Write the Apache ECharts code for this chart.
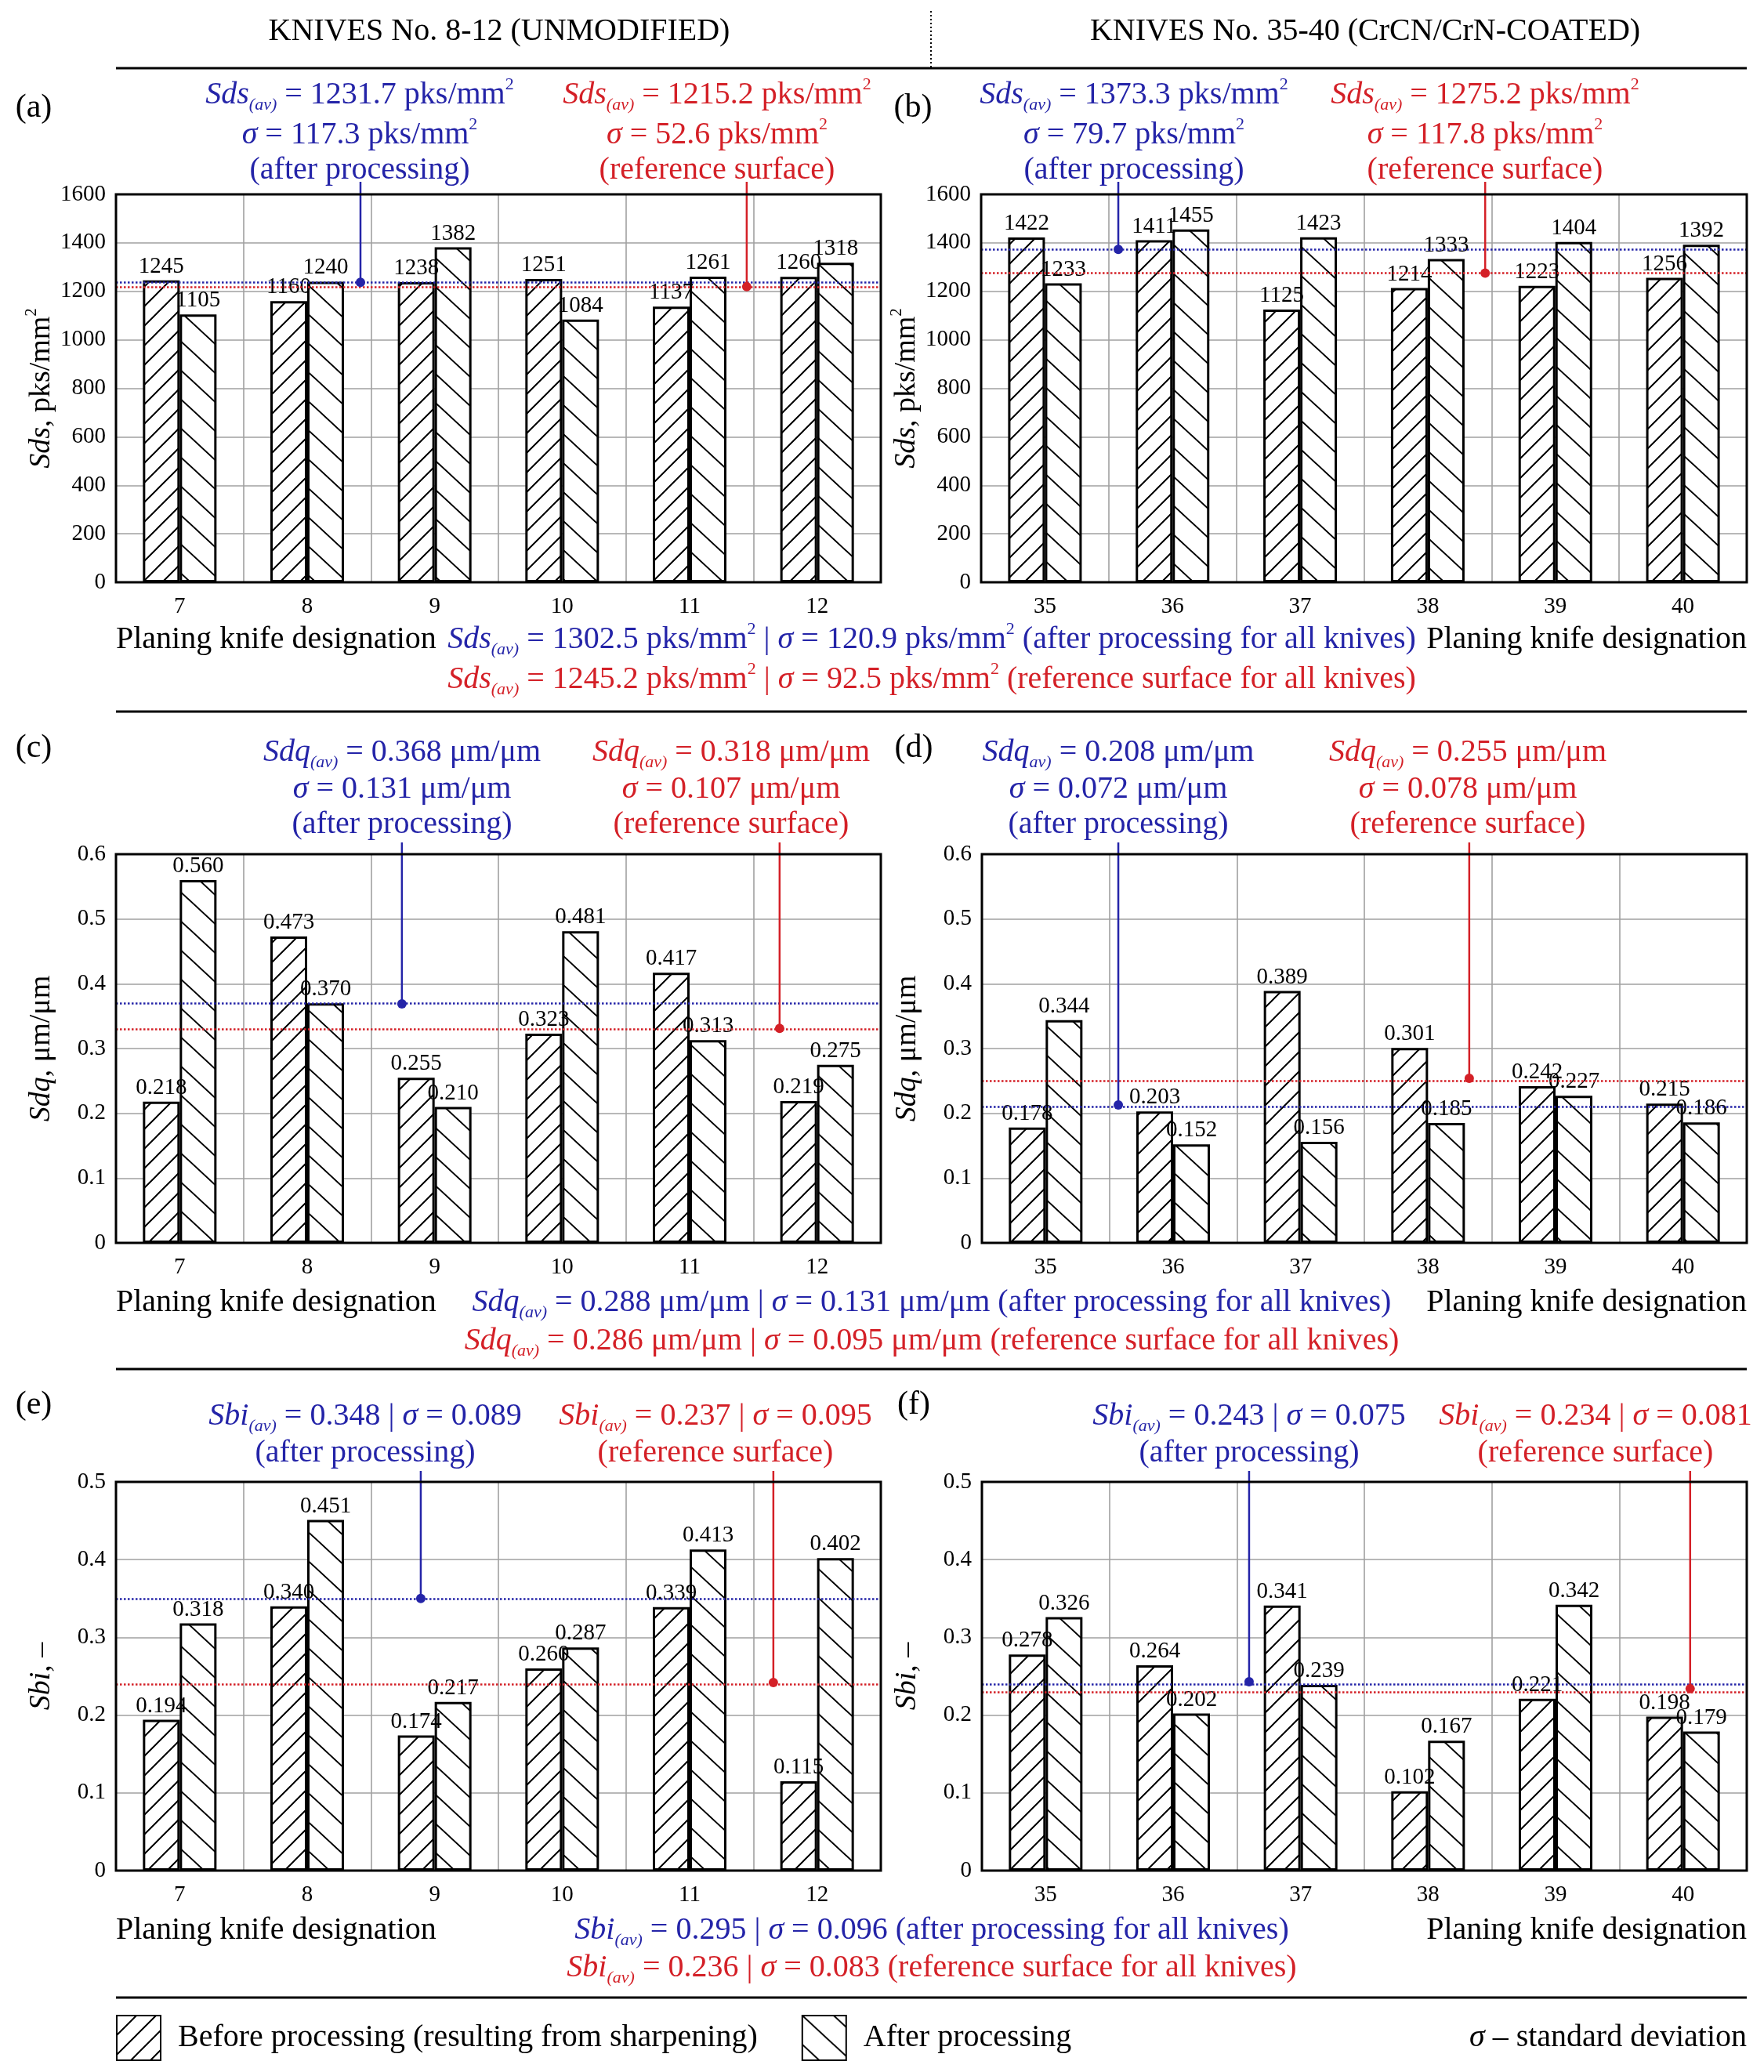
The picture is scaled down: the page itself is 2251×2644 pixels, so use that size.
<!DOCTYPE html>
<html><head><meta charset="utf-8">
<script src="https://cdn.jsdelivr.net/npm/echarts@6/dist/echarts.min.js"></script>
<style>html,body{margin:0;padding:0;background:#fff}#c{width:2251px;height:2644px}</style>
</head><body><div id="c"></div>
<script>
// ---------- DATA ----------
const knivesUnmodified = ['7','8','9','10','11','12'];
const knivesCoated = ['35','36','37','38','39','40'];
const sdsBefore812 = [1245,1160,1238,1251,1137,1260];
const sdsAfter812 = [1105,1240,1382,1084,1261,1318];
const sdsBefore3540 = [1422,1411,1125,1214,1223,1256];
const sdsAfter3540 = [1233,1455,1423,1333,1404,1392];
const sdqBefore812 = [0.218,0.473,0.255,0.323,0.417,0.219];
const sdqAfter812 = [0.560,0.370,0.210,0.481,0.313,0.275];
const sdqBefore3540 = [0.178,0.203,0.389,0.301,0.242,0.215];
const sdqAfter3540 = [0.344,0.152,0.156,0.185,0.227,0.186];
const sbiBefore812 = [0.194,0.340,0.174,0.260,0.339,0.115];
const sbiAfter812 = [0.318,0.451,0.217,0.287,0.413,0.402];
const sbiBefore3540 = [0.278,0.264,0.341,0.102,0.221,0.198];
const sbiAfter3540 = [0.326,0.202,0.239,0.167,0.342,0.179];
const avgAfterLine = [1237,1373,0.369,0.213,0.350,0.243];
const avgReferenceLine = [1219,1275,0.331,0.254,0.242,0.234];
const yMaxes = [1600,1600,0.6,0.6,0.5,0.5];
const yIntervals = [200,200,0.1,0.1,0.1,0.1];
const labelDecimals = [0,0,3,3,3,3];
const tickDecimals = [0,0,1,1,1,1];
const BEFORE = 'Before processing (resulting from sharpening)';
const AFTER = 'After processing';

// ---------- STYLE / LAYOUT ----------
const FONT = "'Liberation Serif','Times New Roman',serif";
const BLUE = '#2424a8', RED = '#d42027';
const layout = [
  {left:148, top:248, width:976, height:495, pB:1.918, pR:4.948, pOff:16},
  {left:1252, top:248, width:977, height:495, pB:1.075, pR:3.950, pOff:16},
  {left:148, top:1090, width:976, height:496, pB:2.243, pR:5.206, pOff:15},
  {left:1253, top:1090, width:976, height:496, pB:1.070, pR:3.823, pOff:15},
  {left:148, top:1891, width:976, height:496, pB:2.391, pR:5.157, pOff:14},
  {left:1253, top:1891, width:976, height:496, pB:2.096, pR:5.556, pOff:14}
];
const panelCats = [knivesUnmodified, knivesCoated, knivesUnmodified, knivesCoated, knivesUnmodified, knivesCoated];
const panelBefore = [sdsBefore812, sdsBefore3540, sdqBefore812, sdqBefore3540, sbiBefore812, sbiBefore3540];
const panelAfter = [sdsAfter812, sdsAfter3540, sdqAfter812, sdqAfter3540, sbiAfter812, sbiAfter3540];
const yNames = ['{i|Sds}, pks/mm{sup|2}','{i|Sds}, pks/mm{sup|2}','{i|Sdq}, μm/μm','{i|Sdq}, μm/μm','{i|Sbi}, –','{i|Sbi}, –'];

function hatch(forward, w, h){
  const c = document.createElement('canvas');
  c.width = w; c.height = h;
  const g = c.getContext('2d');
  g.fillStyle = '#fff'; g.fillRect(0,0,w,h);
  g.strokeStyle = '#000'; g.lineWidth = 2; g.lineCap = 'square'; g.beginPath();
  const dx = 3, dy = 3 * h / w;
  if (forward) {
    g.moveTo(0,h); g.lineTo(w,0);
    g.moveTo(-dx,dy); g.lineTo(dx,-dy);
    g.moveTo(w-dx,h+dy); g.lineTo(w+dx,h-dy);
  } else {
    g.moveTo(0,0); g.lineTo(w,h);
    g.moveTo(w-dx,-dy); g.lineTo(w+dx,dy);
    g.moveTo(-dx,h-dy); g.lineTo(dx,h+dy);
  }
  g.stroke();
  return {image:c, repeat:'repeat'};
}
const patFwd = hatch(true, 25, 25), patBack = hatch(false, 40, 37);

function rich(size){
  const sub = Math.round(size*0.55);
  return {
    i:{fontStyle:'italic', fontSize:size, fontFamily:FONT, lineHeight:size+8},
    sub:{fontStyle:'italic', fontSize:sub, fontFamily:FONT, lineHeight:sub, verticalAlign:'bottom'},
    sup:{fontSize:sub, fontFamily:FONT, lineHeight:sub, verticalAlign:'top'}
  };
}
function T(x, y, text, fill, align, size){
  size = size || 40;
  return {type:'text', x:x, y:y, silent:true, z:10,
    style:{text:text, fill:fill || '#000', fontSize:size, fontFamily:FONT,
      align:align || 'center', verticalAlign:'middle', lineHeight:size+8, rich:rich(size)}};
}
function L(x1,y1,x2,y2,w,dash){
  return {type:'line', silent:true, z:10, shape:{x1,y1,x2,y2},
    style:{stroke:'#000', lineWidth:w, lineDash:dash || null}};
}

// ---------- OPTION ----------
const grids = [], xAxes = [], yAxes = [], series = [];
for (let k = 0; k < 6; k++) {
  const lo = layout[k];
  const td = tickDecimals[k];
  grids.push({left:lo.left, top:lo.top, width:lo.width, height:lo.height, show:false, containLabel:false});
  xAxes.push({type:'category', gridIndex:k, data:panelCats[k],
    axisLine:{show:false}, axisTick:{show:false},
    axisLabel:{fontSize:29, fontFamily:FONT, color:'#000', margin:17},
    splitLine:{show:true, interval:0, lineStyle:{color:'#a0a0a0', width:1.6}}});
  yAxes.push({type:'value', gridIndex:k, min:0, max:yMaxes[k], interval:yIntervals[k],
    axisLine:{show:false}, axisTick:{show:false},
    axisLabel:{fontSize:29, fontFamily:FONT, color:'#000', margin:13,
      formatter: v => v === 0 ? '0' : Number(v).toFixed(td)},
    splitLine:{show:true, lineStyle:{color:'#a0a0a0', width:1.6}},
    name:yNames[k], nameLocation:'middle', nameGap:72, nameRotate:90,
    nameTextStyle:{fontSize:38, fontFamily:FONT, color:'#000', rich:rich(38)}});
}
for (let k = 0; k < 6; k++) {
  xAxes.push({type:'value', gridIndex:k, min:0, max:6, show:false});
}
for (let k = 0; k < 6; k++) {
  const dec = labelDecimals[k];
  const lbl = {show:true, position:'top', distance:3, fontSize:29, fontFamily:FONT, color:'#000',
    formatter: p => dec ? Number(p.value).toFixed(dec) : String(p.value)};
  series.push({type:'bar', name:BEFORE, xAxisIndex:k, yAxisIndex:k, data:panelBefore[k],
    barWidth:47, barGap:'0%', z:2,
    itemStyle:{color:patFwd, borderColor:'#000', borderWidth:3}, label:lbl});
  series.push({type:'bar', name:AFTER, xAxisIndex:k, yAxisIndex:k, data:panelAfter[k],
    barWidth:47, barGap:'0%', z:2,
    itemStyle:{color:patBack, borderColor:'#000', borderWidth:3}, label:lbl});
  const lo = layout[k];
  const topVal = yMaxes[k] * (1 + lo.pOff / lo.height);
  [[avgAfterLine[k], lo.pB, BLUE], [avgReferenceLine[k], lo.pR, RED]].forEach(([v, xf, col]) => {
    series.push({type:'line', xAxisIndex:6+k, yAxisIndex:k, clip:false, silent:true, z:5,
      animation:false, symbolSize:12,
      data:[{value:[xf, v], symbol:'circle'}, {value:[xf, topVal], symbol:'none'}],
      lineStyle:{color:col, width:2.5}, itemStyle:{color:col},
      markLine:{silent:true, symbol:'none', label:{show:false}, animation:false,
        lineStyle:{color:col, type:'dotted', width:2.5}, data:[{yAxis:v}]}});
  });
}

// plot frames drawn on top of the split lines
const frames = layout.map(lo => ({type:'rect', silent:true, z:8,
  shape:{x:lo.left, y:lo.top, width:lo.width, height:lo.height},
  style:{fill:null, stroke:'#000', lineWidth:3}}));

const graphic = frames.concat([
  L(148,87,2229,87,3), L(148,908,2229,908,3), L(148,1747,2229,1747,3), L(148,2549,2229,2549,3),
  L(1188,14,1188,86,2,[2,3]),
  T(637,40,'KNIVES No. 8-12 (UNMODIFIED)'),
  T(1742,40,'KNIVES No. 35-40 (CrCN/CrN-COATED)'),
  T(43,138,'(a)','#000','center',42), T(1165,138,'(b)','#000','center',42),
  T(43,955,'(c)','#000','center',42), T(1166,955,'(d)','#000','center',42),
  T(43,1793,'(e)','#000','center',42), T(1166,1793,'(f)','#000','center',42),
  // (a)
  T(459,121,'{i|Sds}{sub|(av)} = 1231.7 pks/mm{sup|2}',BLUE),
  T(459,172,'{i|σ} = 117.3 pks/mm{sup|2}',BLUE),
  T(459,217,'(after processing)',BLUE),
  T(915,121,'{i|Sds}{sub|(av)} = 1215.2 pks/mm{sup|2}',RED),
  T(915,172,'{i|σ} = 52.6 pks/mm{sup|2}',RED),
  T(915,217,'(reference surface)',RED),
  // (b)
  T(1447,121,'{i|Sds}{sub|(av)} = 1373.3 pks/mm{sup|2}',BLUE),
  T(1447,172,'{i|σ} = 79.7 pks/mm{sup|2}',BLUE),
  T(1447,217,'(after processing)',BLUE),
  T(1895,121,'{i|Sds}{sub|(av)} = 1275.2 pks/mm{sup|2}',RED),
  T(1895,172,'{i|σ} = 117.8 pks/mm{sup|2}',RED),
  T(1895,217,'(reference surface)',RED),
  T(148,816,'Planing knife designation','#000','left'),
  T(2229,816,'Planing knife designation','#000','right'),
  T(1189,816,'{i|Sds}{sub|(av)} = 1302.5 pks/mm{sup|2} | {i|σ} = 120.9 pks/mm{sup|2} (after processing for all knives)',BLUE),
  T(1189,867,'{i|Sds}{sub|(av)} = 1245.2 pks/mm{sup|2} | {i|σ} = 92.5 pks/mm{sup|2} (reference surface for all knives)',RED),
  // (c)
  T(513,960,'{i|Sdq}{sub|(av)} = 0.368 μm/μm',BLUE),
  T(513,1007,'{i|σ} = 0.131 μm/μm',BLUE),
  T(513,1052,'(after processing)',BLUE),
  T(933,960,'{i|Sdq}{sub|(av)} = 0.318 μm/μm',RED),
  T(933,1007,'{i|σ} = 0.107 μm/μm',RED),
  T(933,1052,'(reference surface)',RED),
  // (d)
  T(1427,960,'{i|Sdq}{sub|av)} = 0.208 μm/μm',BLUE),
  T(1427,1007,'{i|σ} = 0.072 μm/μm',BLUE),
  T(1427,1052,'(after processing)',BLUE),
  T(1873,960,'{i|Sdq}{sub|(av)} = 0.255 μm/μm',RED),
  T(1873,1007,'{i|σ} = 0.078 μm/μm',RED),
  T(1873,1052,'(reference surface)',RED),
  T(148,1662,'Planing knife designation','#000','left'),
  T(2229,1662,'Planing knife designation','#000','right'),
  T(1189,1662,'{i|Sdq}{sub|(av)} = 0.288 μm/μm | {i|σ} = 0.131 μm/μm (after processing for all knives)',BLUE),
  T(1189,1711,'{i|Sdq}{sub|(av)} = 0.286 μm/μm | {i|σ} = 0.095 μm/μm (reference surface for all knives)',RED),
  // (e)
  T(466,1807,'{i|Sbi}{sub|(av)} = 0.348 | {i|σ} = 0.089',BLUE),
  T(466,1854,'(after processing)',BLUE),
  T(913,1807,'{i|Sbi}{sub|(av)} = 0.237 | {i|σ} = 0.095',RED),
  T(913,1854,'(reference surface)',RED),
  // (f)
  T(1594,1807,'{i|Sbi}{sub|(av)} = 0.243 | {i|σ} = 0.075',BLUE),
  T(1594,1854,'(after processing)',BLUE),
  T(2036,1807,'{i|Sbi}{sub|(av)} = 0.234 | {i|σ} = 0.081',RED),
  T(2036,1854,'(reference surface)',RED),
  T(148,2463,'Planing knife designation','#000','left'),
  T(2229,2463,'Planing knife designation','#000','right'),
  T(1189,2463,'{i|Sbi}{sub|(av)} = 0.295 | {i|σ} = 0.096 (after processing for all knives)',BLUE),
  T(1189,2511,'{i|Sbi}{sub|(av)} = 0.236 | {i|σ} = 0.083 (reference surface for all knives)',RED),
  T(2229,2600,'{i|σ} – standard deviation','#000','right')
]);

const option = {
  animation:false,
  backgroundColor:'#fff',
  textStyle:{fontFamily:FONT},
  grid:grids, xAxis:xAxes, yAxis:yAxes, series:series,
  legend:{data:[BEFORE, AFTER], left:148, top:2571, orient:'horizontal',
    itemWidth:56, itemHeight:57, itemGap:56, icon:'rect', padding:0, selectedMode:false,
    itemStyle:{borderColor:'#000', borderWidth:2},
    textStyle:{fontSize:40, fontFamily:FONT, color:'#000', padding:[0,0,0,17]}},
  graphic:graphic
};
const chart = echarts.init(document.getElementById('c'), null, {renderer:'canvas', devicePixelRatio:1});
chart.setOption(option);
</script></body></html>
